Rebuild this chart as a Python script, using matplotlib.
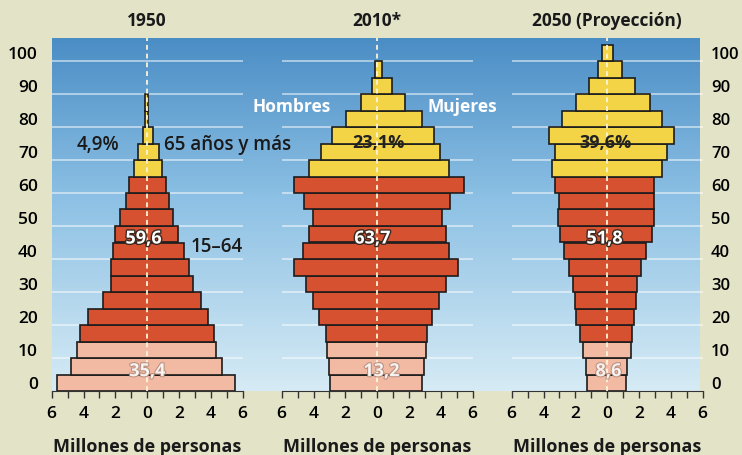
import numpy as np
import matplotlib.pyplot as plt
import matplotlib.patheffects as pe
from matplotlib.colors import LinearSegmentedColormap

# grupos de edad de 5 años: 0-4, 5-9, ..., 100-104
age_start = list(range(0, 105, 5))

# millones de personas: hombres (izquierda) y mujeres (derecha)
men_1950 = [5.68, 4.80, 4.39, 4.23, 3.74, 2.77, 2.30, 2.30, 2.13, 2.01, 1.71,
            1.35, 1.15, 0.83, 0.58, 0.25, 0.12, 0.12, 0, 0, 0]
women_1950 = [5.50, 4.71, 4.30, 4.17, 3.85, 3.40, 2.86, 2.65, 2.30, 1.95, 1.63,
              1.35, 1.21, 0.94, 0.73, 0.35, 0.08, 0.08, 0, 0, 0]

men_2010 = [2.94, 3.04, 3.17, 3.24, 3.67, 4.05, 4.50, 5.24, 4.67, 4.30, 4.05,
            4.61, 5.24, 4.26, 3.56, 2.87, 1.95, 0.99, 0.31, 0.15, 0]
women_2010 = [2.83, 2.94, 3.08, 3.14, 3.46, 3.88, 4.30, 5.09, 4.50, 4.30, 4.09,
              4.55, 5.45, 4.50, 3.92, 3.56, 2.79, 1.74, 0.90, 0.31, 0]

men_2050 = [1.30, 1.36, 1.53, 1.74, 1.95, 2.03, 2.16, 2.37, 2.73, 2.98, 3.08,
            3.04, 3.25, 3.46, 3.29, 3.67, 2.83, 1.99, 1.15, 0.57, 0.31]
women_2050 = [1.19, 1.26, 1.47, 1.57, 1.68, 1.78, 1.89, 2.10, 2.41, 2.83, 2.94,
              2.94, 2.94, 3.46, 3.77, 4.19, 3.42, 2.66, 1.74, 0.94, 0.36]

titles = ["1950", "2010*", "2050 (Proyección)"]
share_young = ["35,4", "13,2", "8,6"]
share_adult = ["59,6", "63,7", "51,8"]
share_old = ["4,9%", "23,1%", "39,6%"]

ytick_ages = list(range(0, 101, 10))
xtick_vals = [-6, -4, -2, 0, 2, 4, 6]

BEIGE = '#e3e3c8'
PINK = '#f2b9a3'
RED = '#d6512f'
YELLOW = '#f3d447'

plt.rcParams['font.family'] = ['Open Sans', 'DejaVu Sans']

W, H = 742, 455
fig = plt.figure(figsize=(W / 100, H / 100), dpi=100)
fig.patch.set_facecolor(BEIGE)


def px_box(x0, y0, x1, y1):
    # caja en pixeles (y desde arriba) -> coordenadas de figura
    return [x0 / W, 1 - y1 / H, (x1 - x0) / W, (y1 - y0) / H]


def age_color(a):
    if a < 15:
        return PINK
    if a < 65:
        return RED
    return YELLOW


# fondo azul degradado
bg = fig.add_axes(px_box(52, 37.9, 700, 391))
blues = LinearSegmentedColormap.from_list(
    'fondo', [(0, '#4a8dc5'), (0.45, '#8cc0e4'), (1, '#d6ebf5')])
bg.imshow(np.linspace(0, 1, 256).reshape(-1, 1), aspect='auto', cmap=blues,
          extent=[0, 1, 0, 1])
bg.axis('off')

panels = [(men_1950, women_1950), (men_2010, women_2010), (men_2050, women_2050)]
lefts = [51.7, 281.7, 511.7]
axes = []
for i, (men, women) in enumerate(panels):
    ax = fig.add_axes(px_box(lefts[i], 37.9, lefts[i] + 191, 391))
    ax.patch.set_alpha(0)
    ax.set_xlim(-6, 6)
    ax.set_ylim(0, 107)

    for a in ytick_ages[1:]:
        ax.axhline(a, color='white', alpha=0.55, lw=1.3, zorder=1)

    for a, m, w in zip(age_start, men, women):
        if m + w == 0:
            continue
        ax.barh(a + 2.5, m + w, left=-m, height=5, color=age_color(a),
                edgecolor='#1c1c1c', linewidth=1.2, zorder=3)

    ax.plot([0, 0], [0, 107], color='#fff6dc', ls=(0, (2.5, 2)), lw=1.4,
            alpha=0.9, zorder=4)

    for s in ['left', 'right', 'top']:
        ax.spines[s].set_visible(False)
    ax.spines['bottom'].set_color('#333333')
    ax.set_xticks(range(-6, 7), minor=True)
    ax.set_xticks(xtick_vals, labels=[str(abs(v)) for v in xtick_vals])
    ax.tick_params(axis='x', which='both', length=5, width=1, color='#333333',
                   labelsize=12.5, pad=6)
    for t in ax.get_xticklabels():
        t.set_fontweight('semibold')
    ax.set_yticks([])
    axes.append(ax)

    cx = (lefts[i] + 95.5) / W
    fig.text(cx, 1 - 21 / H, titles[i], ha='center', va='center',
             fontsize=12.5, fontweight='bold', color='#1a1a1a')
    fig.text(cx, 1 - 447 / H, "Millones de personas", ha='center',
             va='center', fontsize=13, fontweight='bold', color='#1a1a1a')

# etiquetas de edad a ambos lados
yt = [a + 2.5 for a in ytick_ages]
axes[0].set_yticks(yt, labels=[str(a) for a in ytick_ages])
axes[0].tick_params(axis='y', length=0, pad=10, labelsize=12.5)
axes[2].yaxis.tick_right()
axes[2].set_yticks(yt, labels=[str(a) for a in ytick_ages])
axes[2].tick_params(axis='y', length=0, pad=6, labelsize=12)
for ax in (axes[0], axes[2]):
    for t in ax.get_yticklabels():
        t.set_fontweight('semibold')

white_num = dict(color='white', fontsize=13, fontweight='bold', ha='center',
                 va='center', zorder=6,
                 path_effects=[pe.withStroke(linewidth=2, foreground='#3b2a22')])
dark_num = dict(color='#222222', fontsize=13, fontweight='bold', ha='center',
                va='center', zorder=6)
label_kw = dict(color='#1a1a1a', fontsize=13.5, fontweight='semibold',
                va='center', zorder=6)

# 1950
axes[0].text(-3.08, 74.5, share_old[0], ha='center', **label_kw)
axes[0].text(1.03, 74.5, "65 años y más", ha='left', **label_kw)
axes[0].text(2.72, 43.6, "15–64", ha='left', **label_kw)
# 2010
axes[1].text(-5.39, 86.1, "Hombres", color='white', fontsize=12.5,
             fontweight='bold', ha='center', va='center', zorder=6)
axes[1].text(5.36, 86.1, "Mujeres", color='white', fontsize=12.5,
             fontweight='bold', ha='center', va='center', zorder=6)
axes[1].text(0.05, 75.2, share_old[1], **dark_num)
axes[2].text(-0.1, 75.2, share_old[2], **dark_num)

adult_x = [-0.23, -0.3, -0.17]
young_x = [0.0, 0.27, 0.08]
for i, ax in enumerate(axes):
    ax.text(adult_x[i], 46.2, share_adult[i], **white_num)
    ax.text(young_x[i], 6.0, share_young[i], color='white', fontsize=13,
            fontweight='bold', ha='center', va='center', zorder=6, alpha=0.85,
            path_effects=[pe.withStroke(linewidth=1.5, foreground='#b08878')])

fig.savefig('out.png', dpi=100, facecolor=fig.get_facecolor())
